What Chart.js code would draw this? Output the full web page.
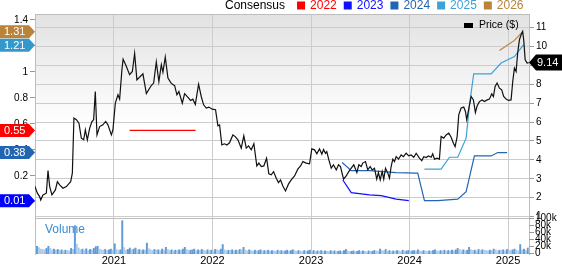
<!DOCTYPE html>
<html>
<head>
<meta charset="utf-8">
<script src="https://cdn.jsdelivr.net/npm/chart.js@4.4.1/dist/chart.umd.min.js"></script>
<style>
html,body{margin:0;padding:0;background:#fff;}
</style>
</head>
<body>
<canvas id="chart" width="562" height="264"></canvas>
<script>
// dates are decimal years
var yearTicks = [2021, 2022, 2023, 2024, 2025];
var epsTicks = [0, 0.2, 0.4, 0.6, 0.8, 1, 1.2, 1.4];
var priceTicks = [1, 2, 3, 4, 5, 6, 7, 8, 9, 10, 11];
var volumeTicks = [0, 20, 40, 60, 80, 100];

var priceDates = [
	2020.196, 2020.223, 2020.246, 2020.257, 2020.280, 2020.314, 2020.331, 2020.348, 2020.371, 2020.406,
	2020.426, 2020.449, 2020.483, 2020.517, 2020.561, 2020.578, 2020.594, 2020.619, 2020.645, 2020.669,
	2020.693, 2020.710, 2020.730, 2020.754, 2020.777, 2020.794, 2020.811, 2020.828, 2020.855, 2020.888,
	2020.916, 2020.939, 2020.974, 2020.990, 2021.014, 2021.041, 2021.058, 2021.081, 2021.093, 2021.119,
	2021.159, 2021.187, 2021.210, 2021.233, 2021.294, 2021.329, 2021.379, 2021.403, 2021.430, 2021.456,
	2021.481, 2021.497, 2021.521, 2021.548, 2021.582, 2021.616, 2021.639, 2021.659, 2021.694, 2021.717,
	2021.751, 2021.778, 2021.801, 2021.826, 2021.859, 2021.886, 2021.910, 2021.937, 2021.963, 2021.998,
	2022.031, 2022.055, 2022.072, 2022.095, 2022.123, 2022.146, 2022.173, 2022.207, 2022.231, 2022.258,
	2022.292, 2022.318, 2022.343, 2022.366, 2022.394, 2022.420, 2022.450, 2022.471, 2022.495, 2022.521,
	2022.549, 2022.572, 2022.596, 2022.620, 2022.647, 2022.670, 2022.691, 2022.714, 2022.741, 2022.772,
	2022.799, 2022.833, 2022.866, 2022.894, 2022.917, 2022.951, 2022.985, 2023.008, 2023.036, 2023.059,
	2023.086, 2023.110, 2023.127, 2023.147, 2023.160, 2023.181, 2023.205, 2023.228, 2023.256, 2023.279,
	2023.299, 2023.330, 2023.357, 2023.383, 2023.408, 2023.434, 2023.465, 2023.485, 2023.509, 2023.525,
	2023.553, 2023.576, 2023.600, 2023.621, 2023.644, 2023.667, 2023.684, 2023.702, 2023.722, 2023.738,
	2023.756, 2023.779, 2023.796, 2023.813, 2023.830, 2023.847, 2023.864, 2023.888, 2023.915, 2023.938,
	2023.965, 2023.992, 2024.016, 2024.043, 2024.067, 2024.100, 2024.124, 2024.144, 2024.168, 2024.192,
	2024.219, 2024.235, 2024.253, 2024.280, 2024.303, 2024.320, 2024.347, 2024.371, 2024.398, 2024.422,
	2024.445, 2024.462, 2024.483, 2024.499, 2024.523, 2024.550, 2024.567, 2024.580, 2024.600, 2024.625,
	2024.648, 2024.668, 2024.686, 2024.709, 2024.736, 2024.760, 2024.787, 2024.810, 2024.834, 2024.851,
	2024.868, 2024.888, 2024.912, 2024.935, 2024.955, 2024.980, 2025.003, 2025.030, 2025.047, 2025.064,
	2025.081, 2025.097, 2025.115, 2025.132, 2025.148, 2025.159, 2025.173, 2025.193, 2025.209
];
var priceValues = [
	2.62, 2.24, 2.06, 1.88, 2.15, 2.24, 3.43, 2.59, 2.15, 2.41,
	2.85, 2.68, 2.50, 2.59, 2.85, 3.30, 6.21, 6.12, 5.94, 5.15,
	5.06, 5.59, 5.06, 5.68, 6.03, 6.12, 7.61, 5.32, 5.76, 5.85,
	6.03, 5.85, 5.32, 5.59, 7.00, 7.44, 7.21, 8.76, 9.32, 9.03,
	8.50, 8.67, 9.62, 8.23, 8.55, 7.50, 7.93, 8.06, 9.18, 8.14,
	9.03, 8.63, 9.43, 8.32, 8.04, 7.92, 7.44, 7.61, 7.00, 7.50,
	7.30, 7.14, 7.21, 6.93, 8.00, 7.35, 6.91, 6.74, 6.79, 6.68,
	6.65, 5.80, 5.85, 4.79, 4.85, 4.79, 4.90, 5.32, 5.23, 5.06,
	4.62, 5.27, 4.62, 4.74, 4.53, 4.85, 3.68, 3.83, 3.65, 3.68,
	4.09, 3.26, 3.21, 3.38, 3.03, 2.80, 2.94, 2.62, 2.36, 2.73,
	2.94, 3.15, 3.51, 3.68, 3.91, 3.83, 3.79, 4.58, 4.53, 4.32,
	4.58, 4.30, 4.55, 4.35, 4.44, 4.00, 3.56, 3.74, 3.47, 3.74,
	3.65, 2.98, 3.15, 3.38, 3.56, 3.74, 3.33, 3.74, 3.65, 3.83,
	3.91, 3.47, 3.65, 3.47, 3.56, 2.98, 3.33, 2.94, 3.38, 2.98,
	3.56, 3.30, 3.03, 3.65, 4.04, 3.91, 4.17, 4.04, 4.26, 4.17,
	4.35, 4.21, 4.26, 4.14, 4.35, 4.09, 3.96, 4.17, 4.12, 4.21,
	4.14, 4.32, 4.04, 4.09, 4.04, 5.23, 5.15, 5.32, 5.41, 5.20,
	4.88, 4.70, 5.23, 6.38, 6.74, 6.79, 6.56, 6.12, 6.68, 7.35,
	7.17, 6.50, 6.86, 7.08, 7.17, 7.08, 7.17, 7.21, 7.49, 7.35,
	7.88, 8.06, 7.79, 7.70, 7.35, 7.21, 7.14, 7.17, 8.14, 8.85,
	8.67, 9.65, 10.35, 10.61, 10.79, 10.31, 9.29, 9.12, 9.14
];

// EPS consensus by fiscal year
var cons2022Dates = [2021.159, 2021.829];
var cons2022 = [0.55, 0.55];
var cons2023Dates = [2023.323, 2023.408, 2023.593, 2023.712, 2023.864, 2023.992];
var cons2023 = [0.169, 0.072, 0.054, 0.049, 0.021, 0.01];
var cons2024Dates = [2023.316, 2023.408, 2023.593, 2023.864, 2024.067, 2024.083, 2024.151, 2024.286, 2024.489, 2024.574, 2024.658, 2024.828, 2024.895, 2024.990];
var cons2024 = [0.303, 0.241, 0.241, 0.226, 0.221, 0.221, 0.01, 0.01, 0.021, 0.079, 0.354, 0.354, 0.38, 0.38];
var cons2025Dates = [2024.151, 2024.320, 2024.405, 2024.489, 2024.574, 2024.608, 2024.651, 2024.828, 2024.929, 2025.064, 2025.158];
var cons2025 = [0.252, 0.252, 0.344, 0.344, 0.491, 0.747, 0.986, 0.986, 1.069, 1.119, 1.21];
var cons2026Dates = [2024.912, 2025.064, 2025.148];
var cons2026 = [1.166, 1.243, 1.31];

// weekly volume in thousands, first week at volumeStart
var volumeStart = 2020.2;
var volumes = [
	20, 22, 18, 14, 13, 12, 16, 22, 17, 12,
	14, 11, 13, 10, 12, 9, 11, 10, 9, 16,
	13, 81, 28, 17, 12, 14, 11, 15, 10, 13,
	12, 16, 21, 22, 14, 12, 11, 13, 10, 12,
	14, 11, 29, 13, 10, 12, 95, 18, 11, 13,
	17, 12, 14, 17, 11, 13, 10, 12, 11, 31,
	15, 12, 10, 13, 11, 12, 9, 14, 11, 19,
	13, 10, 12, 9, 11, 10, 12, 11, 14, 19,
	13, 10, 11, 12, 14, 9, 12, 10, 13, 11,
	9, 12, 10, 11, 9, 13, 12, 10, 14, 27,
	12, 9, 11, 10, 12, 9, 11, 10, 13, 12,
	19, 11, 9, 12, 10, 8, 11, 9, 10, 12,
	8, 10, 9, 11, 8, 10, 9, 8, 11, 9,
	10, 8, 9, 11, 8, 10, 12, 9, 8, 10,
	9, 7, 10, 8, 9, 11, 8, 10, 7, 9,
	8, 10, 7, 9, 8, 7, 10, 8, 9, 7,
	8, 9, 7, 10, 13, 9, 7, 8, 9, 7,
	8, 10, 7, 9, 8, 6, 9, 7, 8, 10,
	9, 8, 14, 10, 9, 13, 8, 10, 7, 9,
	8, 10, 9, 7, 11, 8, 9, 10, 8, 9,
	10, 8, 12, 9, 8, 10, 9, 7, 9, 8,
	10, 12, 9, 8, 10, 9, 11, 8, 10, 9,
	11, 9, 12, 16, 13, 10, 12, 9, 11, 19,
	12, 10, 11, 9, 13, 10, 12, 11, 10, 9,
	11, 10, 14, 12, 9, 11, 10, 12, 9, 13,
	11, 10, 12, 14, 11, 9, 27, 12, 14, 10,
	17, 15
];

var FONT = '"Liberation Sans", Arial, sans-serif';
var GRID = '#cccccc';
var FRAME = '#bdbdbd';
var COLORS = {c2022: '#ff0000', c2023: '#1010ff', c2024: '#2266b3', c2025: '#3ea1d8', c2026: '#b9833a'};
var PANE_SPLIT = 0.93; // price value where the volume pane starts

function toPoints(dates, values){
	return dates.map(function(d, i){ return {x: d, y: values[i]}; });
}

function volumePoints(){
	return volumes.map(function(v, i){ return {x: volumeStart + i / 52, y: v}; });
}

function lineSet(label, dates, values, color, axis){
	return {
		type: 'line', label: label, data: toPoints(dates, values), yAxisID: axis,
		borderColor: color, borderWidth: 1.2, pointRadius: 0, tension: 0, fill: false
	};
}

function fixedTicks(list){
	return function(scale){ scale.ticks = list.map(function(v){ return {value: v}; }); };
}

function leftTag(ctx, y, text, color){
	ctx.beginPath();
	ctx.moveTo(0, y - 6.5);
	ctx.lineTo(29, y - 6.5);
	ctx.lineTo(35, y);
	ctx.lineTo(29, y + 6.5);
	ctx.lineTo(0, y + 6.5);
	ctx.closePath();
	ctx.fillStyle = color;
	ctx.fill();
	ctx.fillStyle = '#fff';
	ctx.textAlign = 'left';
	ctx.textBaseline = 'middle';
	ctx.fillText(text, 4, y + 0.5);
}

var decorations = {
	id: 'decorations',
	beforeDraw: function(chart){
		var ctx = chart.ctx, a = chart.chartArea;
		var split = chart.scales.yPrice.getPixelForValue(PANE_SPLIT);
		var g = ctx.createLinearGradient(0, a.top, 0, split);
		g.addColorStop(0, '#e2e2e2');
		g.addColorStop(0.55, '#ffffff');
		ctx.save();
		ctx.fillStyle = '#fff';
		ctx.fillRect(0, 0, chart.width, chart.height);
		ctx.fillStyle = g;
		ctx.fillRect(a.left, a.top, a.right - a.left, split - a.top);
		ctx.restore();
	},
	beforeDatasetsDraw: function(chart){
		var ctx = chart.ctx, a = chart.chartArea;
		var split = Math.round(chart.scales.yPrice.getPixelForValue(PANE_SPLIT)) + 0.5;
		var yVol = chart.scales.yVol;
		ctx.save();
		ctx.strokeStyle = FRAME;
		ctx.lineWidth = 1;
		ctx.beginPath();
		ctx.moveTo(a.left, Math.round(a.top) + 0.5); ctx.lineTo(a.right, Math.round(a.top) + 0.5);
		ctx.moveTo(a.left, split); ctx.lineTo(a.right, split);
		ctx.moveTo(a.left, Math.round(a.bottom) - 0.5); ctx.lineTo(a.right, Math.round(a.bottom) - 0.5);
		ctx.stroke();

		// volume axis on the right
		ctx.font = '10px ' + FONT;
		ctx.fillStyle = '#000';
		ctx.textAlign = 'left';
		ctx.textBaseline = 'middle';
		ctx.strokeStyle = '#999';
		volumeTicks.forEach(function(v){
			var y = Math.round(yVol.getPixelForValue(v)) - 0.5;
			ctx.beginPath();
			ctx.moveTo(a.right, y); ctx.lineTo(a.right + 5, y);
			ctx.stroke();
			ctx.fillText(v === 0 ? '0' : v + 'k', a.right + 6, y);
		});

		ctx.font = '12px ' + FONT;
		ctx.fillStyle = '#3b8bd0';
		ctx.fillText('Volume', a.left + 10, split + 11);
		ctx.restore();
	},
	afterDraw: function(chart){
		var ctx = chart.ctx, a = chart.chartArea;
		var yEps = chart.scales.yEps, yPrice = chart.scales.yPrice;
		ctx.save();

		// consensus legend across the top
		ctx.font = '12px ' + FONT;
		ctx.textBaseline = 'middle';
		ctx.textAlign = 'left';
		var x = 225;
		ctx.fillStyle = '#000';
		ctx.fillText('Consensus', x, 5.5);
		x += ctx.measureText('Consensus').width + 12;
		var items = [['2022', COLORS.c2022], ['2023', COLORS.c2023], ['2024', COLORS.c2024], ['2025', COLORS.c2025], ['2026', COLORS.c2026]];
		items.forEach(function(it){
			ctx.fillStyle = it[1];
			ctx.fillRect(x, 1.5, 8, 8);
			ctx.fillText(it[0], x + 13, 5.5);
			x += 13 + ctx.measureText(it[0]).width + 7;
		});

		// price legend inside the plot
		ctx.fillStyle = '#000';
		ctx.fillRect(464, 23, 9, 5);
		ctx.font = '10.5px ' + FONT;
		ctx.fillText('Price ($)', 479, 25.5);

		// last-value tags on the EPS axis
		ctx.font = '11px ' + FONT;
		var tags = [
			[cons2026[cons2026.length - 1], COLORS.c2026],
			[cons2025[cons2025.length - 1], '#3399cc'],
			[cons2022[cons2022.length - 1], COLORS.c2022],
			[cons2024[cons2024.length - 1], COLORS.c2024],
			[cons2023[cons2023.length - 1], '#0000ff']
		];
		var lastY = -100;
		tags.forEach(function(t){
			var y = yEps.getPixelForValue(t[0]);
			if (y - lastY < 13.5) y = lastY + 13.5;
			lastY = y;
			leftTag(ctx, y, t[0].toFixed(2), t[1]);
		});

		// last price tag on the right
		var lastPrice = priceValues[priceValues.length - 1];
		var py = yPrice.getPixelForValue(lastPrice);
		ctx.beginPath();
		ctx.moveTo(a.right, py);
		ctx.lineTo(a.right + 7, py - 8);
		ctx.lineTo(chart.width, py - 8);
		ctx.lineTo(chart.width, py + 8);
		ctx.lineTo(a.right + 7, py + 8);
		ctx.closePath();
		ctx.fillStyle = '#000';
		ctx.fill();
		ctx.fillStyle = '#fff';
		ctx.fillText(lastPrice.toFixed(2), a.right + 8, py + 0.5);
		ctx.restore();
	}
};

var volumeColors = volumes.map(function(v, i){
	return (i > 0 && v > volumes[i - 1]) ? '#5f9bd6' : '#aecbea';
});

new Chart(document.getElementById('chart'), {
	type: 'line',
	data: {
		datasets: [
			{
				type: 'line', label: 'Price ($)', data: toPoints(priceDates, priceValues), yAxisID: 'yPrice',
				borderColor: '#111', borderWidth: 1.2, pointRadius: 0, tension: 0, fill: false
			},
			lineSet('2026', cons2026Dates, cons2026, COLORS.c2026, 'yEps'),
			lineSet('2025', cons2025Dates, cons2025, COLORS.c2025, 'yEps'),
			lineSet('2024', cons2024Dates, cons2024, COLORS.c2024, 'yEps'),
			lineSet('2023', cons2023Dates, cons2023, COLORS.c2023, 'yEps'),
			lineSet('2022', cons2022Dates, cons2022, COLORS.c2022, 'yEps'),
			{
				type: 'bar', label: 'Volume', data: volumePoints(), yAxisID: 'yVol',
				backgroundColor: volumeColors, barThickness: 1.3, borderWidth: 0
			}
		]
	},
	options: {
		responsive: false,
		animation: false,
		devicePixelRatio: 1,
		layout: {padding: {top: 14, left: 0, right: 0, bottom: 0}},
		plugins: {legend: {display: false}, tooltip: {enabled: false}},
		scales: {
			x: {
				type: 'linear', min: 2020.199, max: 2025.212, offset: false,
				afterBuildTicks: fixedTicks(yearTicks),
				afterFit: function(s){ s.height = 10; },
				grid: {color: GRID, drawTicks: false, offset: false},
				border: {display: false},
				ticks: {font: {family: FONT, size: 11}, color: '#000', padding: 0, maxRotation: 0,
					callback: function(v){ return String(v); }}
			},
			yEps: {
				position: 'left', min: -0.4006, max: 1.446,
				afterBuildTicks: fixedTicks(epsTicks),
				afterFit: function(s){ s.width = 35; },
				grid: {drawOnChartArea: false, tickLength: 5, tickColor: '#999'},
				border: {display: true, color: FRAME},
				ticks: {font: {family: FONT, size: 10}, color: '#000', padding: 2,
					callback: function(v){ return String(Math.round(v * 10) / 10); }}
			},
			yPrice: {
				position: 'right', min: -0.974, max: 11.709,
				afterBuildTicks: fixedTicks(priceTicks),
				afterFit: function(s){ s.width = 33; },
				grid: {color: GRID, tickLength: 5, tickColor: '#999'},
				border: {display: true, color: FRAME},
				ticks: {font: {family: FONT, size: 10}, color: '#000', padding: 2}
			},
			yVol: {display: false, min: 0, max: 685}
		}
	},
	plugins: [decorations]
});
</script>
</body>
</html>
